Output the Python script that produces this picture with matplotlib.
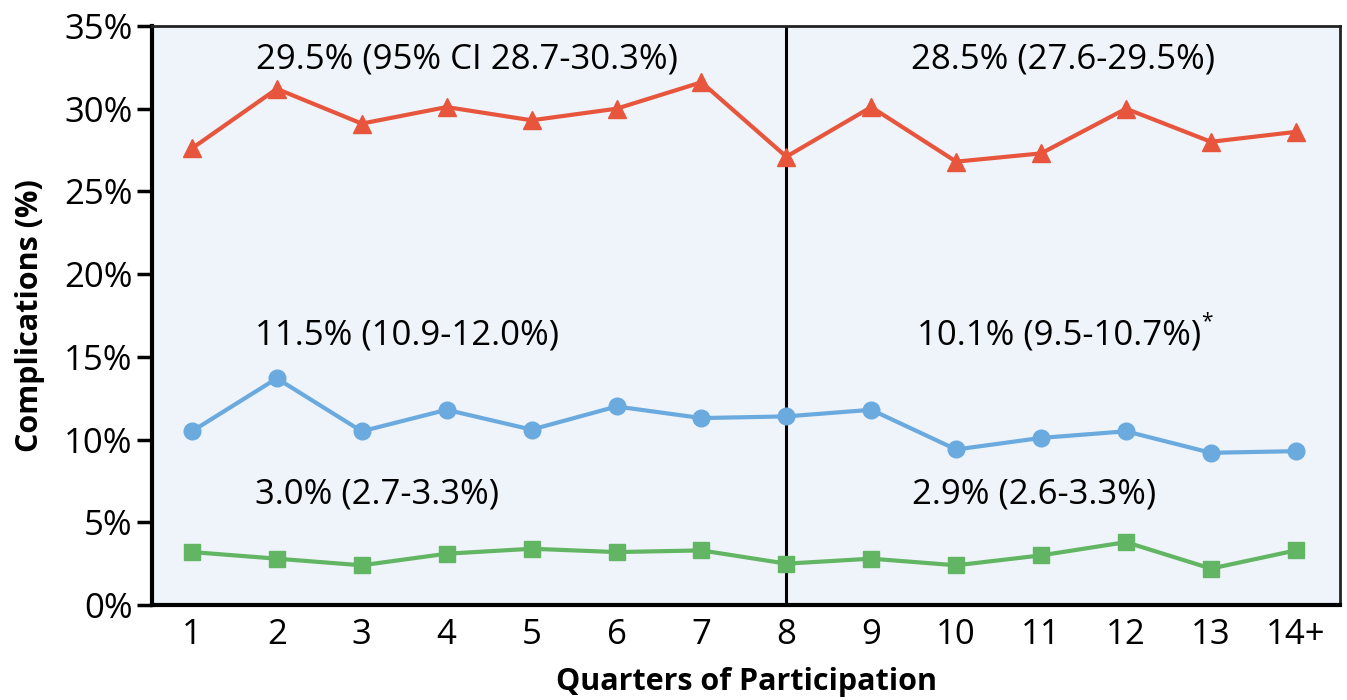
import matplotlib
matplotlib.use('Agg')
import matplotlib.pyplot as plt

plt.rcParams.update({'font.family': ['Open Sans', 'DejaVu Sans'], 'font.size': 24})

quarters = ['1', '2', '3', '4', '5', '6', '7', '8', '9', '10', '11', '12', '13', '14+']
red_vals = [27.6, 31.2, 29.1, 30.1, 29.3, 30.0, 31.6, 27.1, 30.1, 26.8, 27.3, 30.0, 28.0, 28.6]
blue_vals = [10.5, 13.7, 10.5, 11.8, 10.6, 12.0, 11.3, 11.4, 11.8, 9.4, 10.1, 10.5, 9.2, 9.3]
green_vals = [3.2, 2.8, 2.4, 3.1, 3.4, 3.2, 3.3, 2.5, 2.8, 2.4, 3.0, 3.8, 2.2, 3.3]
yticks = [0, 5, 10, 15, 20, 25, 30, 35]

RED = '#E8553D'
BLUE = '#6AAADF'
GREEN = '#62B562'

fig = plt.figure(figsize=(13.47, 7.0), dpi=100)
ax = fig.add_axes([152/1347, 1 - 605/700, (1340-152)/1347, (605-26)/700])
ax.set_facecolor('#EEF4FA')

x = list(range(1, len(quarters) + 1))
ax.plot(x, red_vals, color=RED, marker='^', markersize=13, linewidth=3, zorder=3)
ax.plot(x, blue_vals, color=BLUE, marker='o', markersize=12, linewidth=3, zorder=3)
ax.plot(x, green_vals, color=GREEN, marker='s', markersize=11, linewidth=3, zorder=3)

ax.axvline(8, color='black', linewidth=2.2, zorder=2)

ax.set_xlim(0.53, 14.52)
ax.set_ylim(0, 35)
ax.set_xticks(x)
ax.set_xticklabels(quarters, fontsize=25)
ax.set_yticks(yticks)
ax.set_yticklabels([f'{t}%' for t in yticks], fontsize=25)
ax.tick_params(axis='y', length=11, width=2.5, pad=3)
ax.tick_params(axis='x', length=0, pad=9)

for side in ['left', 'bottom']:
    ax.spines[side].set_linewidth(3)
    ax.spines[side].set_color('black')
for side in ['top', 'right']:
    ax.spines[side].set_linewidth(2)
    ax.spines[side].set_color('#222222')

ax.set_ylabel('Complications (%)', fontsize=22, fontweight='bold', labelpad=14)
ax.set_xlabel('Quarters of Participation', fontsize=22, fontweight='bold', labelpad=11)

# period summaries
ax.text(4.24, 32.95, '29.5% (95% CI 28.7-30.3%)', ha='center', va='center', fontsize=25)
ax.text(11.26, 32.95, '28.5% (27.6-29.5%)', ha='center', va='center', fontsize=25)
ax.text(1.74, 16.3, '11.5% (10.9-12.0%)', ha='left', va='center', fontsize=25)
t = ax.text(9.54, 16.3, '10.1% (9.5-10.7%)', ha='left', va='center', fontsize=25)
ax.annotate('*', xy=(1.0, 0.9), xycoords=t, ha='left', va='center', fontsize=15)
ax.text(1.74, 6.65, '3.0% (2.7-3.3%)', ha='left', va='center', fontsize=25)
ax.text(9.48, 6.65, '2.9% (2.6-3.3%)', ha='left', va='center', fontsize=25)

fig.savefig('out.png', dpi=100)
